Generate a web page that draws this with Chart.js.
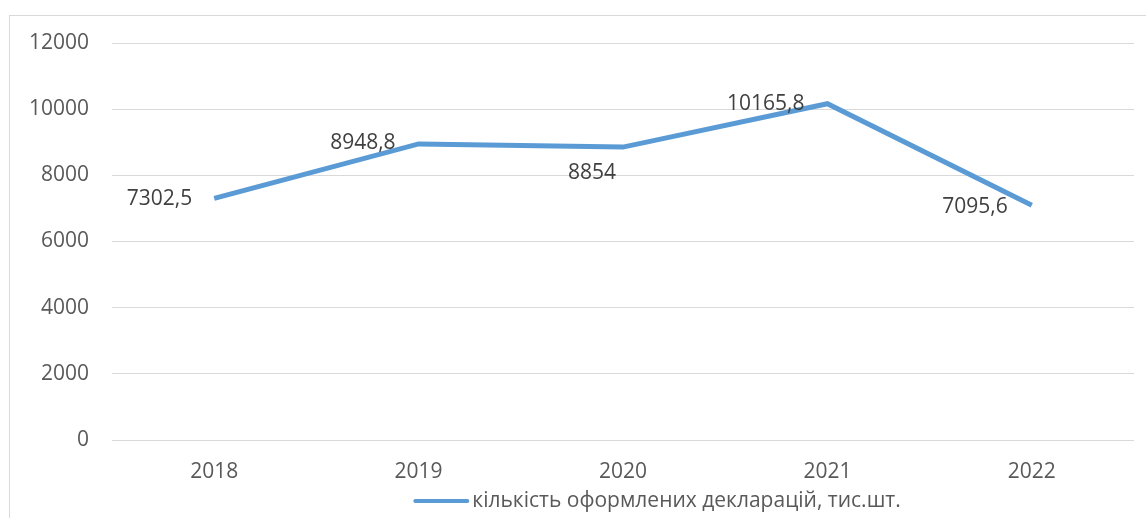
<!DOCTYPE html>
<html>
<head>
<meta charset="utf-8">
<script src="https://cdn.jsdelivr.net/npm/chart.js@4/dist/chart.umd.min.js"></script>
<style>
    body { margin: 0; background: #fff; }
    #wrap { position: relative; width: 1146px; height: 518px; overflow: hidden; }
    #frame { position: absolute; left: 9px; top: 15px; width: 1200px; height: 600px;
             border-left: 1px solid #d9d9d9; border-top: 1px solid #d9d9d9; }
    #chart { position: absolute; left: 0; top: 0; }
</style>
</head>
<body>
<div id="wrap">
    <div id="frame"></div>
    <canvas id="chart" width="1146" height="518"></canvas>
</div>
<script>
const years = ['2018', '2019', '2020', '2021', '2022'];
const declarations = [7302.5, 8948.8, 8854, 10165.8, 7095.6];
const seriesName = 'кількість оформлених декларацій, тис.шт.';
const yTicks = [0, 2000, 4000, 6000, 8000, 10000, 12000];

const textColor = '#595959';
const fontFamily = "'Open Sans', 'Liberation Sans', sans-serif";

// value labels next to each point (Excel style)
const valueLabels = {
    id: 'valueLabels',
    afterDatasetsDraw(chart) {
        const ctx = chart.ctx;
        const meta = chart.getDatasetMeta(0);
        const shift = [[-22, 1], [-23, -1], [-7, 26], [-23, 0], [-24, 2]];
        ctx.save();
        ctx.font = '21px ' + fontFamily;
        ctx.fillStyle = '#404040';
        ctx.textAlign = 'right';
        ctx.textBaseline = 'middle';
        meta.data.forEach((pt, i) => {
            const txt = String(declarations[i]).replace('.', ',');
            ctx.fillText(txt, pt.x + shift[i][0], pt.y + shift[i][1]);
        });
        ctx.restore();
    }
};

// legend drawn by hand: the Excel one sits off-centre and hugs the line sample
const bottomLegend = {
    id: 'bottomLegend',
    afterDraw(chart) {
        const ctx = chart.ctx;
        const ds = chart.data.datasets[0];
        const y = 501;
        ctx.save();
        ctx.font = '21px ' + fontFamily;
        const tw = ctx.measureText(ds.label).width;
        const total = 56 + 3 + tw;
        const x0 = 657 - total / 2;
        ctx.strokeStyle = ds.borderColor;
        ctx.lineWidth = 4;
        ctx.lineCap = 'round';
        ctx.beginPath();
        ctx.moveTo(x0 + 2, y);
        ctx.lineTo(x0 + 54, y);
        ctx.stroke();
        ctx.fillStyle = textColor;
        ctx.textBaseline = 'middle';
        ctx.fillText(ds.label, x0 + 59, y);
        ctx.restore();
    }
};

new Chart(document.getElementById('chart'), {
    type: 'line',
    data: {
        labels: years,
        datasets: [{
            label: seriesName,
            data: declarations,
            borderColor: '#5b9bd5',
            backgroundColor: '#5b9bd5',
            borderWidth: 5,
            pointRadius: 0,
            tension: 0
        }]
    },
    options: {
        responsive: false,
        animation: false,
        layout: { padding: { left: 20, right: 12, top: 43, bottom: 33 } },
        plugins: {
            legend: { display: false },
            tooltip: { enabled: false }
        },
        scales: {
            x: {
                offset: true,
                grid: { display: false },
                border: { display: false },
                ticks: { color: textColor, padding: 11, font: { family: fontFamily, size: 21 } },
                afterFit(scale) { scale.height = 45; }
            },
            y: {
                min: 0,
                max: 12000,
                afterBuildTicks(scale) { scale.ticks = yTicks.map(v => ({ value: v })); },
                grid: { color: '#d9d9d9', lineWidth: 1, drawTicks: false },
                border: { display: false },
                ticks: {
                    color: textColor,
                    padding: 23,
                    font: { family: fontFamily, size: 21 },
                    callback: v => String(v)
                },
                afterFit(scale) { scale.width = 92; }
            }
        }
    },
    plugins: [valueLabels, bottomLegend]
});
</script>
</body>
</html>
